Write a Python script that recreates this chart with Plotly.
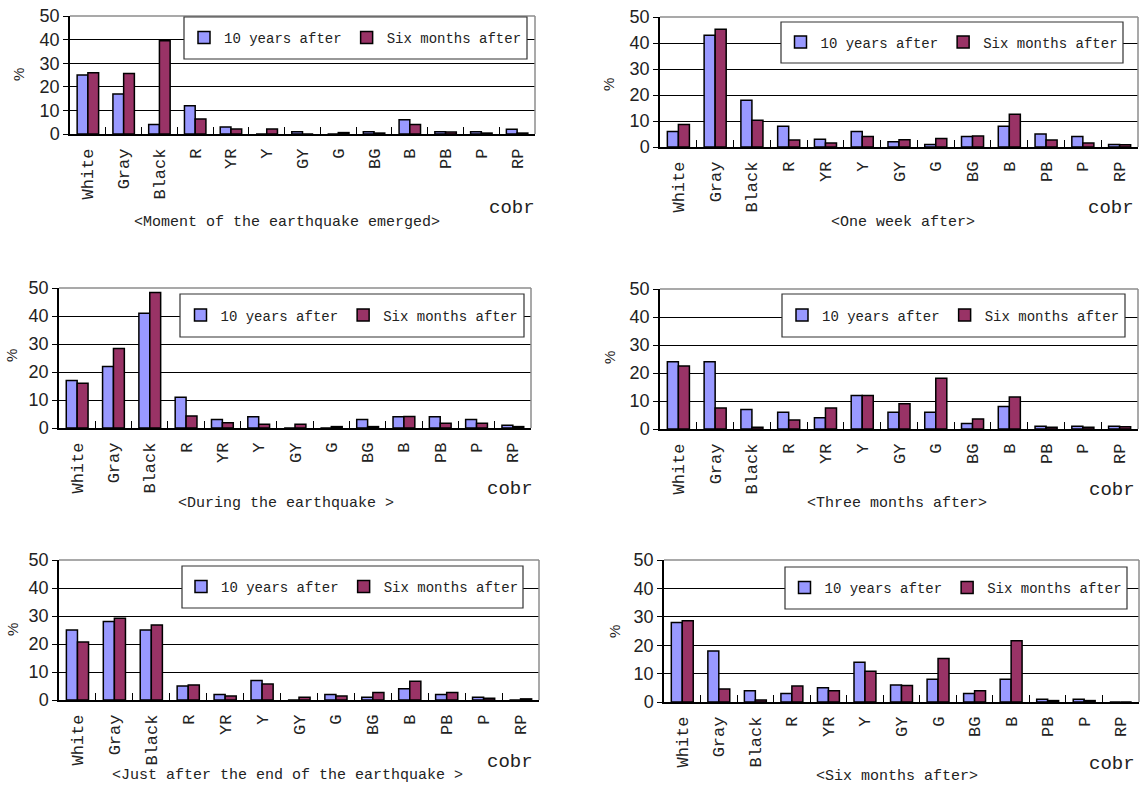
import plotly.graph_objects as go

W, H = 1140, 786

categories = ["White", "Gray", "Black", "R", "YR", "Y", "GY", "G", "BG", "B", "PB", "P", "RP"]
series_names = ["10 years after", "Six months after"]

moment_ten = [25, 17, 4, 12, 3, 0, 1, 0, 1, 6, 1, 1, 2]
moment_six = [26, 25.6, 39.5, 6.4, 2.1, 2.1, 0, 0.6, 0.4, 4, 0.8, 0.4, 0.4]

week_ten = [6, 43, 18, 8, 3, 6, 2, 1, 4, 8, 5, 4, 1]
week_six = [8.7, 45.3, 10.3, 2.7, 1.5, 4, 2.8, 3.3, 4.2, 12.6, 2.7, 1.5, 0.9]

during_ten = [17, 22, 41, 11, 3, 4, 0, 0, 3, 4, 4, 3, 1]
during_six = [16, 28.4, 48.4, 4.3, 1.9, 1.3, 1.3, 0.5, 0.5, 4.1, 1.7, 1.7, 0.5]

three_ten = [24, 24, 7, 6, 4, 12, 6, 6, 2, 8, 1, 1, 1]
three_six = [22.5, 7.5, 0.6, 3.2, 7.5, 12, 9, 18.1, 3.6, 11.4, 0.6, 0.6, 0.8]

justafter_ten = [25, 28, 25, 5, 2, 7, 0, 2, 1, 4, 2, 1, 0]
justafter_six = [20.7, 29.2, 26.8, 5.4, 1.4, 5.7, 1, 1.4, 2.7, 6.7, 2.7, 0.6, 0.4]

sixm_ten = [28, 18, 4, 3, 5, 14, 6, 8, 3, 8, 1, 1, 0]
sixm_six = [28.6, 4.6, 0.7, 5.6, 4, 10.8, 5.8, 15.3, 4, 21.6, 0.5, 0.5, 0]

panel_titles = [
    "<Moment of the earthquake emerged>",
    "<One week after>",
    "<During the earthquake >",
    "<Three months after>",
    "<Just after the end of the earthquake >",
    "<Six months after>",
]
x_label = "cobr"
y_label = "%"
y_ticks = [0, 10, 20, 30, 40, 50]

panels_data = [
    (moment_ten, moment_six),
    (week_ten, week_six),
    (during_ten, during_six),
    (three_ten, three_six),
    (justafter_ten, justafter_six),
    (sixm_ten, sixm_six),
]

# layout geometry (pixels): plot box, legend box, title/label positions
plot_boxes = [
    (70, 535, 16, 134),
    (660, 1138, 17, 147),
    (59, 531, 288, 428),
    (660, 1138, 289, 429),
    (59, 539, 560, 700),
    (664, 1139, 560, 702),
]
legend_boxes = [
    (184, 527, 17, 59),
    (781, 1123, 22, 63),
    (180, 524, 294, 337),
    (782, 1125, 294, 337),
    (182, 523, 566, 608),
    (785, 1127, 567, 609),
]
title_pos = [(287, 222), (903, 222), (286, 503), (897, 504), (287, 775), (897, 776)]
cobr_pos = [(537, 208), (1136, 208), (535, 489), (1137, 490), (535, 762), (1137, 764)]
pct_pos = [(18, 75), (609, 85), (12, 356), (609, 358), (12, 630), (614, 632)]

BLUE = "#9999FF"
RED = "#993366"
MONO = "Liberation Mono"
SANS = "Liberation Sans"
TXT = "#222222"

fig = go.Figure()
layout = dict(
    width=W, height=H, autosize=False,
    margin=dict(l=0, r=0, t=0, b=0, pad=0),
    paper_bgcolor="white", plot_bgcolor="white",
    barmode="group", bargap=0.4, bargroupgap=0.0,
    showlegend=True,
)
shapes = []
annotations = []

for i, ((ten, six), (x0, x1, y0, y1)) in enumerate(zip(panels_data, plot_boxes)):
    n = i + 1
    sx = "" if n == 1 else str(n)
    leg = "legend" if n == 1 else f"legend{n}"
    for name, vals, col in ((series_names[0], ten, BLUE), (series_names[1], six, RED)):
        fig.add_trace(go.Bar(
            x=categories, y=vals, name=name,
            xaxis=f"x{sx}", yaxis=f"y{sx}", legend=leg,
            marker=dict(color=col, line=dict(color="black", width=1.5)),
        ))
    layout[f"xaxis{sx}"] = dict(
        domain=[x0 / W, x1 / W], anchor=f"y{sx}", automargin=False,
        type="category", categoryorder="array", categoryarray=categories,
        tickangle=-90, tickson="boundaries", ticks="inside", ticklen=7,
        tickcolor="black", showline=True, linecolor="black", linewidth=1.5,
        showgrid=False, zeroline=False,
        tickfont=dict(family=MONO, size=17, color=TXT),
        ticklabelstandoff=6,
    )
    layout[f"yaxis{sx}"] = dict(
        domain=[1 - y1 / H, 1 - y0 / H], anchor=f"x{sx}", automargin=False,
        range=[0, 50], tickvals=y_ticks, ticks="outside", ticklen=5,
        tickcolor="black", showline=True, linecolor="black", linewidth=1.5,
        showgrid=True, gridcolor="black", gridwidth=1, zeroline=False,
        tickfont=dict(family=SANS, size=18, color=TXT),
    )
    # plot-area border (top and right in gray)
    shapes.append(dict(type="line", xref=f"x{sx} domain", yref=f"y{sx} domain",
                       x0=0, x1=1, y0=1, y1=1, line=dict(color="#8c8c8c", width=1.5), layer="above"))
    shapes.append(dict(type="line", xref=f"x{sx} domain", yref=f"y{sx} domain",
                       x0=1, x1=1, y0=0, y1=1, line=dict(color="#8c8c8c", width=1.5), layer="above"))
    # legend frame
    lx0, lx1, ly0, ly1 = legend_boxes[i]
    shapes.append(dict(type="rect", xref="paper", yref="paper",
                       x0=lx0 / W, x1=lx1 / W, y0=1 - ly1 / H, y1=1 - ly0 / H,
                       fillcolor="white", line=dict(color="#333333", width=1.2), layer="above"))
    layout[leg] = dict(
        x=(lx0 + lx1) / 2 / W, y=1 - (ly0 + ly1) / 2 / H,
        xanchor="center", yanchor="middle", orientation="h",
        bgcolor="rgba(0,0,0,0)", borderwidth=0,
        font=dict(family=MONO, size=14, color=TXT),
        itemwidth=30, traceorder="normal",
    )
    tx, ty = title_pos[i]
    annotations.append(dict(text=panel_titles[i].replace("<", "&lt;").replace(">", "&gt;"),
                            xref="paper", yref="paper", x=tx / W, y=1 - ty / H,
                            xanchor="center", yanchor="middle", showarrow=False,
                            font=dict(family=MONO, size=15, color=TXT)))
    cx, cy = cobr_pos[i]
    annotations.append(dict(text=x_label, xref="paper", yref="paper", x=cx / W, y=1 - cy / H,
                            xanchor="right", yanchor="middle", showarrow=False,
                            font=dict(family=MONO, size=19, color=TXT)))
    px, py = pct_pos[i]
    annotations.append(dict(text=y_label, xref="paper", yref="paper", x=px / W, y=1 - py / H,
                            xanchor="center", yanchor="middle", showarrow=False, textangle=-90,
                            font=dict(family=SANS, size=15, color=TXT)))

layout["shapes"] = shapes
layout["annotations"] = annotations
fig.update_layout(**layout)
fig.write_html("out.html", config={"displayModeBar": False},
               post_script="document.body.style.margin='0';document.body.style.overflow='hidden';")
